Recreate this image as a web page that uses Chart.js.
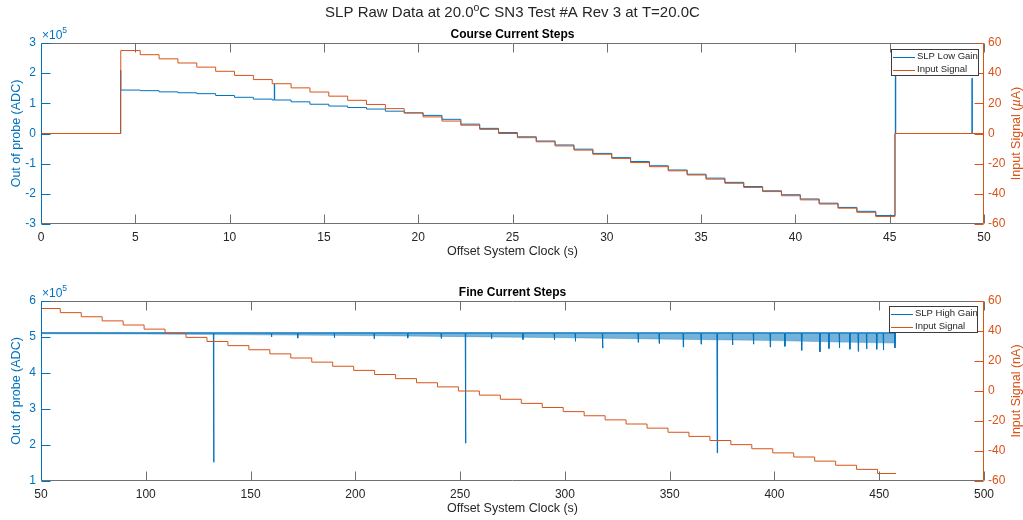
<!DOCTYPE html>
<html>
<head>
<meta charset="utf-8">
<script src="https://cdn.jsdelivr.net/npm/chart.js"></script>
<style>
  body { margin: 0; background: #fff; }
  #wrap { position: relative; width: 1023px; height: 520px; }
  canvas { position: absolute; left: 0; }
</style>
</head>
<body>
<div id="wrap">
  <canvas id="coarse" width="1023" height="260" style="top:0"></canvas>
  <canvas id="fine" width="1023" height="260" style="top:260px"></canvas>
</div>
<script>
// ---- data ----
// Course current steps: start time of each input step (s)
const coarseStepTimes = [4.23, 5.26, 6.26, 7.26, 8.26, 9.26, 10.26, 11.26, 12.26, 13.26,
  14.26, 15.26, 16.26, 17.26, 18.26, 19.26, 20.26, 21.26, 22.26, 23.26, 24.26, 25.26,
  26.26, 27.26, 28.26, 29.26, 30.26, 31.26, 32.26, 33.26, 34.26, 35.26, 36.26, 37.26,
  38.26, 39.26, 40.26, 41.26, 42.26, 43.26, 44.26];
const coarseEndTime = 45.28;
// input signal levels (uA on top plot, nA on bottom plot)
const inputLevels = [55, 52.25, 49.5, 46.75, 44, 41.25, 38.5, 35.75, 33, 30.25, 27.5,
  24.75, 22, 19.25, 16.5, 13.75, 11, 8.25, 5.5, 2.75, 0, -2.75, -5.5, -8.25, -11, -13.75,
  -16.5, -19.25, -22, -24.75, -27.5, -30.25, -33, -35.75, -38.5, -41.25, -44, -46.75,
  -49.5, -52.25, -55];
// SLP low gain output per step (x10^5 ADC)
const lowGainLevels = [1.44, 1.42, 1.38, 1.35, 1.32, 1.26, 1.20, 1.14, 1.11, 1.05, 0.97,
  0.91, 0.86, 0.81, 0.74, 0.68, 0.60, 0.47, 0.31, 0.17, 0.03, -0.11, -0.25, -0.38, -0.52,
  -0.66, -0.80, -0.93, -1.07, -1.21, -1.35, -1.48, -1.62, -1.76, -1.90, -2.03, -2.17,
  -2.31, -2.45, -2.58, -2.72];
// [time, peak] glitches in the low gain trace
const lowGainSpikes = [[4.22, 2.10], [12.37, 1.64], [45.30, 2.40], [49.36, 1.83]];

// Fine current steps: start time of each input step (s)
const fineStepTimes = [50, 59.2, 69.2, 79.2, 89.2, 99.2, 109.2, 119.2, 129.2, 139.2,
  149.2, 159.2, 169.2, 179.2, 189.2, 199.2, 209.2, 219.2, 229.2, 239.2, 249.2, 259.2,
  269.2, 279.2, 289.2, 299.2, 309.2, 319.2, 329.2, 339.2, 349.2, 359.2, 369.2, 379.2,
  389.2, 399.2, 409.2, 419.2, 429.2, 439.2, 449.2];
const fineEndTime = 458;
// SLP high gain: flat level with downward glitches (x10^5 ADC)
const highGainLevel = 5.11;
const highGainSpikes = [[132.4, 1.52], [160, 5.00], [172.5, 4.97], [190, 4.98],
  [209, 4.95], [225, 4.97], [241, 4.96], [252.6, 2.05], [265, 4.95], [280, 4.93],
  [295, 4.92], [305, 4.88], [318, 4.69], [335, 4.85], [345, 4.82], [356.5, 4.72],
  [365, 4.80], [372.7, 1.78], [380, 4.78], [390, 4.80], [398, 4.72], [405, 4.74],
  [413, 4.63], [421.7, 4.59], [426, 4.68], [431, 4.70], [436, 4.66], [440, 4.60],
  [444, 4.67], [448.8, 4.66], [452, 4.64], [457.5, 4.70]];
// noise band envelope of the high gain trace
const bandTimes = [50, 100, 150, 200, 250, 300, 350, 400, 430, 458];
const bandUpper = [5.12, 5.12, 5.12, 5.12, 5.12, 5.12, 5.12, 5.12, 5.12, 5.12];
const bandLower = [5.09, 5.08, 5.06, 5.04, 5.01, 4.98, 4.94, 4.90, 4.86, 4.83];

// ---- styling ----
const BLUE = '#0072BD', ORANGE = '#D95319', INK = '#262626', FRAME = '#6f6f6f';
const FAMILY = '"Liberation Sans", Arial, Helvetica, sans-serif';
const font = (size, weight, style) => `${style || 'normal'} ${weight || 'normal'} ${size}px ${FAMILY}`;

// ---- build point lists ----
function steps(times, levels, before, after) {
  const pts = before ? before.slice() : [];
  times.forEach((t, i) => pts.push({ x: t, y: levels[i] }));
  return pts.concat(after || []);
}
function levelAt(pts, t) {
  let y = pts[0].y;
  pts.forEach(p => { if (p.x <= t) y = p.y; });
  return y;
}
function addStepSpikes(pts, spikes) {
  const extra = [];
  spikes.forEach(([t, v]) => {
    extra.push({ x: t, y: v }, { x: t + 0.02, y: levelAt(pts, t + 0.02) });
  });
  return pts.concat(extra).sort((a, b) => a.x - b.x);
}

const coarseInput = steps(coarseStepTimes, inputLevels, [{ x: 0, y: 0 }],
  [{ x: coarseEndTime, y: 0 }, { x: 50, y: 0 }]);
const coarseLow = addStepSpikes(steps(coarseStepTimes, lowGainLevels, [{ x: 0, y: 0 }],
  [{ x: coarseEndTime, y: 0 }, { x: 50, y: 0 }]), lowGainSpikes);

const fineInput = steps(fineStepTimes, inputLevels, [], [{ x: fineEndTime, y: -55 }]);
const fineHigh = [{ x: 50, y: highGainLevel }];
highGainSpikes.forEach(([t, v]) => {
  fineHigh.push({ x: t - 0.15, y: highGainLevel }, { x: t, y: v }, { x: t + 0.15, y: highGainLevel });
});
fineHigh.push({ x: fineEndTime, y: highGainLevel });
const bandTop = bandTimes.map((t, i) => ({ x: t, y: bandUpper[i] }));
const bandLow = bandTimes.map((t, i) => ({ x: t, y: bandLower[i] }));

// ---- text helper: runs of differently styled text ----
function drawRuns(ctx, runs, x, y, align, angle) {
  ctx.save();
  ctx.translate(x, y);
  if (angle) ctx.rotate(angle);
  ctx.textBaseline = 'middle';
  ctx.textAlign = 'left';
  const widths = runs.map(r => { ctx.font = font(r.size, r.weight, r.style); return ctx.measureText(r.text).width; });
  const total = widths.reduce((a, b) => a + b, 0);
  let cx = align === 'center' ? -total / 2 : (align === 'right' ? -total : 0);
  runs.forEach((r, i) => {
    ctx.font = font(r.size, r.weight, r.style);
    ctx.fillStyle = r.color;
    ctx.fillText(r.text, cx, r.dy || 0);
    cx += widths[i];
  });
  ctx.restore();
}

// MATLAB-like box, inward ticks, legend and labels
const matlabFrame = {
  id: 'matlabFrame',
  afterDatasetsDraw(chart, args, opts) {
    const ctx = chart.ctx;
    const a = chart.chartArea;
    const x = chart.scales.x, yl = chart.scales.yl, yr = chart.scales.yr;
    const L = Math.round(a.left) + 0.5, R = Math.round(a.right) - 0.5;
    const T = Math.round(a.top) + 0.5, B = Math.round(a.bottom) - 0.5;
    const line = (x1, y1, x2, y2) => { ctx.beginPath(); ctx.moveTo(x1, y1); ctx.lineTo(x2, y2); ctx.stroke(); };
    ctx.save();
    ctx.lineWidth = 1;
    ctx.strokeStyle = FRAME;
    line(L, T, R, T);
    line(L, B, R, B);
    x.ticks.forEach(t => {
      const px = Math.round(x.getPixelForValue(t.value)) + 0.5;
      line(px, B, px, B - 9);
      line(px, T, px, T + 9);
    });
    ctx.strokeStyle = BLUE;
    line(L, T, L, B);
    yl.ticks.forEach(t => {
      const py = Math.round(yl.getPixelForValue(t.value)) + 0.5;
      line(L, py, L + 9, py);
    });
    ctx.strokeStyle = ORANGE;
    line(R, T, R, B);
    yr.ticks.forEach(t => {
      const py = Math.round(yr.getPixelForValue(t.value)) + 0.5;
      line(R, py, R - 9, py);
    });

    // legend
    const lg = opts.legend;
    ctx.fillStyle = '#fff';
    ctx.fillRect(lg.x, lg.y, lg.w, lg.h);
    ctx.strokeStyle = '#3c3c3c';
    ctx.strokeRect(lg.x + 0.5, lg.y + 0.5, lg.w, lg.h);
    lg.items.forEach((it, i) => {
      const yy = lg.y + 7.5 + i * 13.3;
      ctx.strokeStyle = it.color;
      line(lg.x + 2, Math.round(yy) + 0.5, lg.x + 24, Math.round(yy) + 0.5);
      drawRuns(ctx, [{ text: it.label, size: 9.5, color: INK }], lg.x + 26, yy, 'left');
    });

    // texts
    const cxp = (a.left + a.right) / 2, cyp = (a.top + a.bottom) / 2;
    if (opts.mainTitle) {
      drawRuns(ctx, [
        { text: 'SLP Raw Data at 20.0', size: 15, color: INK },
        { text: 'o', size: 10.5, color: INK, dy: -5 },
        { text: 'C SN3 Test #A Rev 3 at T=20.0C', size: 15, color: INK }
      ], cxp, 13, 'center');
    }
    drawRuns(ctx, [{ text: opts.subtitle, size: 12, weight: 'bold', color: '#000' }], cxp, a.top - 8, 'center');
    drawRuns(ctx, [
      { text: '\u00d710', size: 12, color: BLUE },
      { text: '5', size: 8.5, color: BLUE, dy: -5 }
    ], a.left + 1, a.top - 7, 'left');
    drawRuns(ctx, [{ text: 'Out of probe (ADC)', size: 12.5, color: BLUE }], 17, cyp, 'center', -Math.PI / 2);
    drawRuns(ctx, [
      { text: 'Input Signal (', size: 12.5, color: ORANGE },
      { text: opts.unit[0], size: 12.5, style: opts.unit[1] ? 'italic' : 'normal', color: ORANGE },
      { text: 'A)', size: 12.5, color: ORANGE }
    ], 1017, cyp, 'center', -Math.PI / 2);
    drawRuns(ctx, [{ text: 'Offset System Clock (s)', size: 12.5, color: INK }], cxp, a.bottom + 28, 'center');
    ctx.restore();
  }
};

function axes(xMin, xMax, xStep, lMin, lMax, xHeight) {
  const tickFont = { family: FAMILY, size: 12 };
  return {
    x: {
      type: 'linear', min: xMin, max: xMax,
      ticks: { stepSize: xStep, color: INK, font: tickFont, padding: 6, maxRotation: 0, autoSkip: false },
      grid: { display: false, drawTicks: false }, border: { display: false },
      afterFit: s => { s.height = xHeight; }
    },
    yl: {
      type: 'linear', position: 'left', min: lMin, max: lMax,
      ticks: { stepSize: 1, color: BLUE, font: tickFont, padding: 5 },
      grid: { display: false, drawTicks: false }, border: { display: false },
      afterFit: s => { s.width = 41; }
    },
    yr: {
      type: 'linear', position: 'right', min: -60, max: 60,
      ticks: { stepSize: 20, color: ORANGE, font: tickFont, padding: 4 },
      grid: { display: false, drawTicks: false }, border: { display: false },
      afterFit: s => { s.width = 39; }
    }
  };
}

const lineBase = { borderWidth: 1, pointRadius: 0, fill: false, tension: 0 };

new Chart(document.getElementById('coarse'), {
  type: 'line',
  data: {
    datasets: [
      { ...lineBase, label: 'Input Signal', data: coarseInput, yAxisID: 'yr', borderColor: ORANGE, stepped: true, order: 0 },
      { ...lineBase, label: 'SLP Low Gain', data: coarseLow, yAxisID: 'yl', borderColor: BLUE, stepped: true, order: 1 }
    ]
  },
  options: {
    responsive: false, animation: false,
    layout: { padding: { top: 43 } },
    scales: axes(0, 50, 5, -3, 3, 36),
    plugins: {
      legend: { display: false }, tooltip: { enabled: false },
      matlabFrame: {
        mainTitle: true, subtitle: 'Course Current Steps', unit: ['\u00b5', true],
        legend: { x: 891, y: 49, w: 87, h: 26, items: [
          { label: 'SLP Low Gain', color: BLUE }, { label: 'Input Signal', color: ORANGE }] }
      }
    }
  },
  plugins: [matlabFrame]
});

new Chart(document.getElementById('fine'), {
  type: 'line',
  data: {
    datasets: [
      { ...lineBase, label: 'Input Signal', data: fineInput, yAxisID: 'yr', borderColor: ORANGE, stepped: true, order: 0 },
      { ...lineBase, label: 'SLP High Gain', data: fineHigh, yAxisID: 'yl', borderColor: BLUE, order: 1 },
      { ...lineBase, label: '_bandTop', data: bandTop, yAxisID: 'yl', borderColor: 'rgba(0,114,189,0.5)', order: 2 },
      { ...lineBase, label: '_bandLow', data: bandLow, yAxisID: 'yl', borderColor: 'rgba(0,114,189,0.3)',
        fill: '-1', backgroundColor: 'rgba(0,114,189,0.55)', order: 3 }
    ]
  },
  options: {
    responsive: false, animation: false,
    layout: { padding: { top: 41 } },
    scales: axes(50, 500, 50, 1, 6, 39),
    plugins: {
      legend: { display: false }, tooltip: { enabled: false },
      matlabFrame: {
        mainTitle: false, subtitle: 'Fine Current Steps', unit: ['n', false],
        legend: { x: 889, y: 46, w: 88, h: 26, items: [
          { label: 'SLP High Gain', color: BLUE }, { label: 'Input Signal', color: ORANGE }] }
      }
    }
  },
  plugins: [matlabFrame]
});
</script>
</body>
</html>
